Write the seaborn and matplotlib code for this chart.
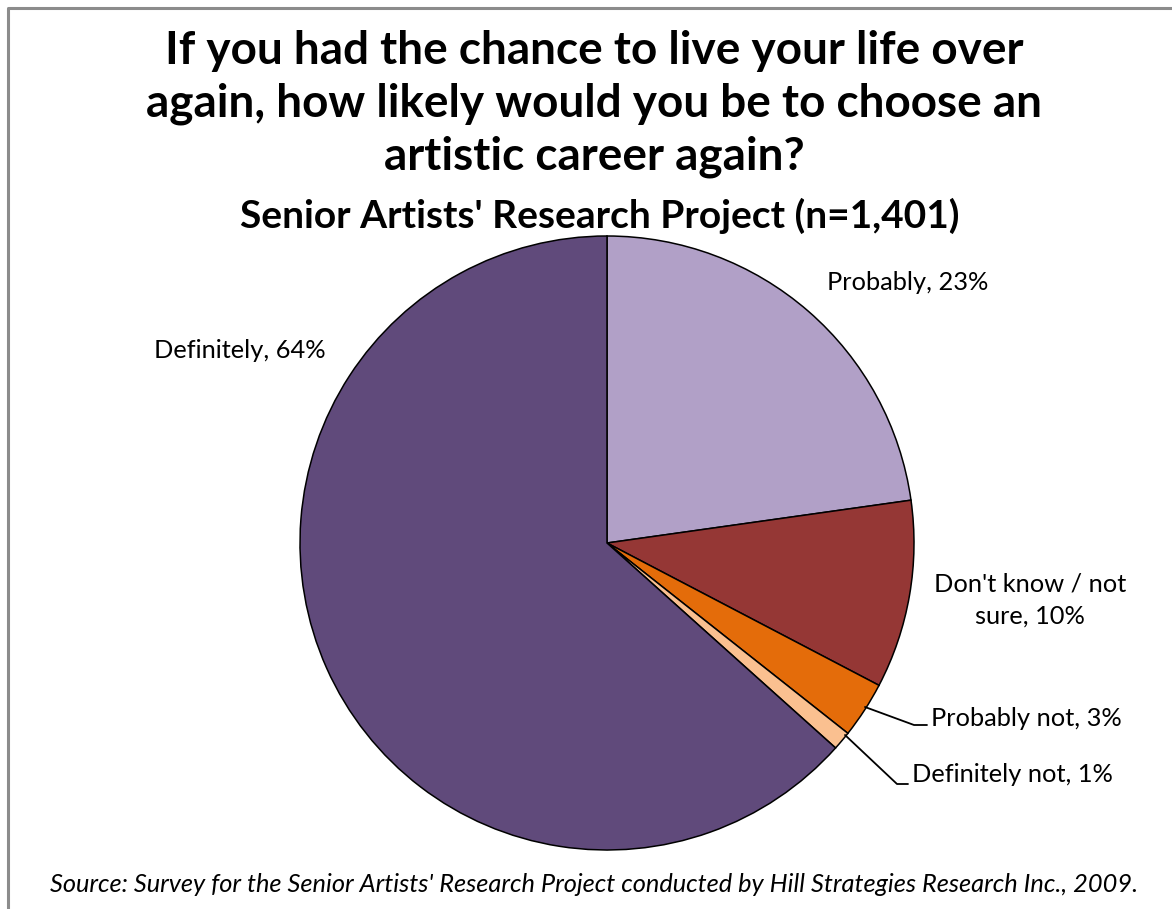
import matplotlib
matplotlib.use("Agg")
import matplotlib.pyplot as plt
import seaborn as sns
from matplotlib.lines import Line2D

sns.set_theme(style="white")
plt.rcParams["font.family"] = ["Lato", "DejaVu Sans"]
plt.rcParams["text.color"] = "black"

# Survey responses (percent of respondents)
categories = ["Probably", "Don't know / not\nsure", "Probably not", "Definitely not", "Definitely"]
shares = [23, 10, 3, 1, 64]
colors = ["#B1A0C7", "#953735", "#E46C0A", "#FAC090", "#604A7B"]

title = ("If you had the chance to live your life over\n"
         "again, how likely would you be to choose an\n"
         "artistic career again?")
subtitle = "Senior Artists' Research Project (n=1,401)"
source = ("Source: Survey for the Senior Artists' Research Project conducted by "
          "Hill Strategies Research Inc., 2009.")

W, H = 1172, 909
cx, cy, R = 607, 543, 307  # pie centre and radius in pixels

fig = plt.figure(figsize=(W / 100, H / 100), dpi=100)
ax = fig.add_axes([0, 0, 1, 1])

wedges, _ = ax.pie(
    shares,
    colors=colors,
    startangle=90,
    counterclock=False,
    radius=1,
    wedgeprops=dict(edgecolor="black", linewidth=1.1),
)

ax.set_xlim(-cx / R, (W - cx) / R)
ax.set_ylim((cy - H) / R, cy / R)
ax.set_aspect("equal")
ax.axis("off")


def px(x, y):
    """Pixel position (from top-left) to pie data coordinates."""
    return (x - cx) / R, (cy - y) / R


label_font = dict(fontsize=18.3, color="black")
texts = [f"{c}, {v}%" for c, v in zip(categories, shares)]

ax.text(*px(908, 283), texts[0], ha="center", va="center", **label_font)
ax.text(*px(1030, 600), texts[1], ha="center", va="center", linespacing=1.45, **label_font)
ax.text(*px(931, 718), texts[2], ha="left", va="center", **label_font)
ax.text(*px(912, 775), texts[3], ha="left", va="center", **label_font)
ax.text(*px(240, 350), texts[4], ha="center", va="center", **label_font)

# Leader lines for the two thin slices
for pts in ([(865, 707), (914, 725), (927, 725)],
            [(845, 735), (897, 784), (908, 784)]):
    xs, ys = zip(*[px(x, y) for x, y in pts])
    ax.add_line(Line2D(xs, ys, color="black", linewidth=1.3))

fig.text(594 / W, 1 - 104 / H, title, ha="center", va="center",
         fontsize=33, fontweight="bold", linespacing=1.32)
fig.text(600 / W, 1 - 216 / H, subtitle, ha="center", va="center",
         fontsize=28, fontweight="bold")
fig.text(594 / W, 1 - 885 / H, source, ha="center", va="center",
         fontsize=18.3, style="italic")

# Chart-area frame (top and left edges)
fig.add_artist(Line2D([8 / W, 8 / W, 1.0], [0.0, 1 - 8 / H, 1 - 8 / H],
                      transform=fig.transFigure, color="#8C8C8C", linewidth=2.2))

fig.savefig("out.png", dpi=100)
